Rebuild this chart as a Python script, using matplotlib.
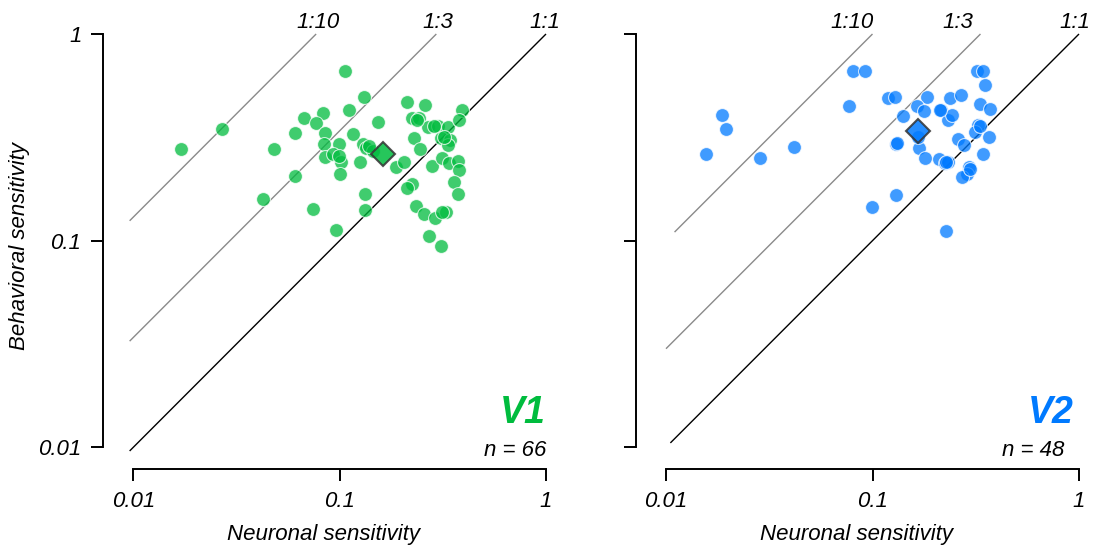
import matplotlib
matplotlib.use("Agg")
import matplotlib.pyplot as plt
import numpy as np

plt.rcParams["font.family"] = ["Liberation Sans", "DejaVu Sans"]
plt.rcParams["font.style"] = "italic"

# ---- V1 population ----
v1_neuronal = [0.106, 0.131, 0.111, 0.0671, 0.0833, 0.0765, 0.0605, 0.0849, 0.116, 0.153,
               0.213, 0.260, 0.223, 0.243, 0.267, 0.300, 0.336, 0.390, 0.380, 0.310,
               0.342, 0.230, 0.245, 0.336, 0.0170, 0.0270, 0.0481, 0.0837, 0.0995, 0.0846,
               0.0931, 0.101, 0.100, 0.126, 0.130, 0.134, 0.145, 0.188, 0.206, 0.0607,
               0.0426, 0.0745, 0.133, 0.132, 0.0956, 0.225, 0.213, 0.281, 0.313, 0.340,
               0.373, 0.380, 0.359, 0.376, 0.234, 0.257, 0.290, 0.326, 0.272, 0.310,
               0.138, 0.236, 0.285, 0.322, 0.315, 0.099]
v1_behavioral = [0.662, 0.494, 0.429, 0.391, 0.413, 0.372, 0.331, 0.331, 0.329, 0.374,
                 0.467, 0.453, 0.394, 0.391, 0.356, 0.359, 0.356, 0.429, 0.384, 0.313,
                 0.307, 0.313, 0.278, 0.290, 0.278, 0.347, 0.277, 0.293, 0.295, 0.255,
                 0.263, 0.239, 0.211, 0.239, 0.293, 0.282, 0.272, 0.227, 0.241, 0.206,
                 0.159, 0.142, 0.169, 0.141, 0.112, 0.187, 0.179, 0.230, 0.250, 0.237,
                 0.244, 0.220, 0.192, 0.168, 0.147, 0.135, 0.128, 0.137, 0.105, 0.0945,
                 0.286, 0.385, 0.357, 0.318, 0.137, 0.258]
v1_mean = (0.163, 0.262)

# ---- V2 population ----
v2_neuronal = [0.0802, 0.0923, 0.0772, 0.119, 0.129, 0.183, 0.164, 0.178, 0.141, 0.215,
               0.237, 0.267, 0.233, 0.242, 0.320, 0.344, 0.351, 0.332, 0.371, 0.325,
               0.314, 0.367, 0.342, 0.260, 0.278, 0.130, 0.168, 0.180, 0.209, 0.225,
               0.233, 0.294, 0.286, 0.270, 0.130, 0.0998, 0.226, 0.0187, 0.0196, 0.0157,
               0.0285, 0.0418, 0.167, 0.131, 0.212, 0.227, 0.330, 0.296]
v2_behavioral = [0.662, 0.662, 0.450, 0.492, 0.497, 0.494, 0.448, 0.425, 0.401, 0.429,
                 0.489, 0.507, 0.384, 0.406, 0.662, 0.662, 0.567, 0.458, 0.435, 0.363,
                 0.337, 0.316, 0.263, 0.309, 0.290, 0.294, 0.280, 0.250, 0.248, 0.237,
                 0.241, 0.227, 0.210, 0.204, 0.166, 0.146, 0.111, 0.404, 0.348, 0.263,
                 0.250, 0.283, 0.316, 0.296, 0.431, 0.239, 0.357, 0.222]
v2_mean = (0.167, 0.339)

# Guide lines (behavioral = ratio * neuronal) with their labels
guide_labels = ["1:1", "1:3", "1:10"]
v1_guide_ratio = [1.0, 3.4, 13.0]
v1_guide_start = [0.0096, 0.0096, 0.0096]
v1_guide_label_x = [0.99, 0.30, 0.079]
v2_guide_ratio = [1.0, 3.0, 10.0]
v2_guide_start = [0.0105, 0.010, 0.011]
v2_guide_label_x = [0.95, 0.26, 0.080]

ticks = [0.01, 0.1, 1]
tick_labels = ["0.01", "0.1", "1"]

GREEN = "#00BC3E"
BLUE = "#007AFF"

fig = plt.figure(figsize=(10.94, 5.5), dpi=100)
W, H = 1094.0, 550.0
ax1 = fig.add_axes([133.3 / W, 1 - 447.3 / H, 412.7 / W, 413.3 / H])
ax2 = fig.add_axes([666.0 / W, 1 - 447.3 / H, 413.0 / W, 413.3 / H])


def draw_panel(ax, xs, ys, mean_xy, color, name, n_text, ratios, starts, label_xs,
               name_x, n_x, show_ylabels):
    ax.set_xscale("log")
    ax.set_yscale("log")
    ax.set_xlim(0.01, 1)
    ax.set_ylim(0.01, 1)

    for lab, r, x0, lx in zip(guide_labels, ratios, starts, label_xs):
        gx = np.array([x0, 1.0 / r])
        lc = "black" if r == 1.0 else "#8a8a8a"
        ax.plot(gx, gx * r, color=lc, lw=1.0, clip_on=False, zorder=1,
                solid_capstyle="butt")
        ax.annotate(lab, xy=(lx, 1.0), xycoords=("data", "axes fraction"),
                    xytext=(0, 4.5), textcoords="offset points",
                    ha="center", va="baseline", fontsize=16, annotation_clip=False)

    ax.scatter(xs, ys, s=100, c=color, alpha=0.75, edgecolors="white",
               linewidths=0.8, zorder=3, clip_on=False)
    ax.plot([mean_xy[0]], [mean_xy[1]], marker="D", ms=12, mfc=color,
            mec="#333333", mew=1.5, alpha=0.85, zorder=4, linestyle="none")

    ax.text(name_x, 0.0588, name, transform=ax.transAxes, ha="right",
            va="baseline", fontsize=27, fontweight="bold", color=color)
    ax.text(n_x, -0.0213, n_text, transform=ax.transAxes, ha="right",
            va="baseline", fontsize=16)

    for side in ("top", "right"):
        ax.spines[side].set_visible(False)
    ax.spines["left"].set_position(("outward", 21.8))
    ax.spines["bottom"].set_position(("outward", 15.8))
    ax.spines["left"].set_bounds(0.01, 1)
    ax.spines["bottom"].set_bounds(0.01, 1)
    for side in ("left", "bottom"):
        ax.spines[side].set_linewidth(1.4)

    ax.minorticks_off()
    ax.set_xticks(ticks)
    ax.set_xticklabels(tick_labels)
    ax.set_yticks(ticks)
    ax.set_yticklabels(tick_labels if show_ylabels else ["", "", ""])
    ax.tick_params(axis="both", which="major", direction="out", length=8.6,
                   width=1.4, labelsize=16, pad=7)
    ax.set_facecolor("none")

    ax.set_xlabel("Neuronal sensitivity", fontsize=16)
    ax.xaxis.set_label_coords(0.462, -0.212)
    ax.xaxis.label.set_va("center")


draw_panel(ax1, v1_neuronal, v1_behavioral, v1_mean, GREEN, "V1", "n = 66",
           v1_guide_ratio, v1_guide_start, v1_guide_label_x, 1.0, 1.0, True)
draw_panel(ax2, v2_neuronal, v2_behavioral, v2_mean, BLUE, "V2", "n = 48",
           v2_guide_ratio, v2_guide_start, v2_guide_label_x, 0.988, 0.964, False)

fig.text(20 / W, 1 - 246 / H, "Behavioral sensitivity", rotation=90,
         ha="center", va="center", fontsize=16)

fig.savefig("out.png", dpi=100)
